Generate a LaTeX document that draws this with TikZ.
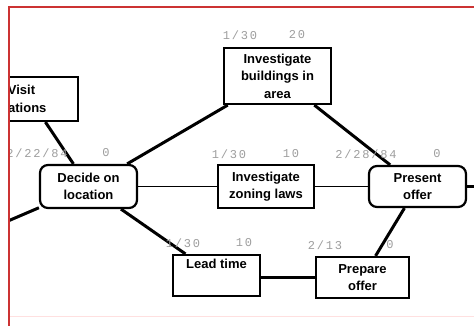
\documentclass[tikz,border=0pt]{standalone}
\usepackage{fontspec}
\setmainfont{Liberation Sans}
\newfontfamily\lblfont[LetterSpace=15]{Liberation Mono}
\begin{document}
\begin{tikzpicture}[x=1pt,y=-1pt,
  box/.style={draw, line width=2.2pt, inner sep=0pt, align=center,
    font=\bfseries\fontsize{13}{17.5}\selectfont},
  rbox/.style={box, rounded corners=8pt},
  boxtext/.style={inner sep=0pt, align=center, font=\bfseries\fontsize{13}{17.5}\selectfont},
  heavy/.style={line width=3pt},
  medium/.style={line width=2.2pt},
  light/.style={line width=1.6pt},
  lbl/.style={text=black!38, inner sep=0pt, font=\lblfont\fontsize{12}{12}\selectfont},
  frame/.style={draw=red!75!black!80, line width=2pt}]
\useasboundingbox (0,0) rectangle (474,326);
\fill[white] (0,0) rectangle (474,326);
\begin{scope}
\clip (10,8) rectangle (474,326);
% nodes
\node[box, minimum width=96pt, minimum height=44pt] (visit) at (30,99) {};
\node[boxtext] (visittext) at (21.5,99) {Visit\\stations};
\node[rbox, minimum width=97pt, minimum height=43pt] (decide) at (88.5,186.5) {Decide on\\location};
\node[box, minimum width=107pt, minimum height=56pt] (build) at (277.5,76) {Investigate\\buildings in\\area};
\node[box, minimum width=96pt, minimum height=43pt] (zoning) at (266,186.5) {Investigate\\zoning laws};
\node[rbox, minimum width=97pt, minimum height=41pt] (present) at (417.5,186.5) {Present\\offer};
\node[box, minimum width=87pt, minimum height=41pt] (lead) at (216.5,275.5) {Lead time\\\strut};
\node[box, minimum width=93pt, minimum height=41pt] (prepare) at (362.5,277.5) {Prepare\\offer};
\coordinate (outl) at (-20,233);
\coordinate (outr) at (500,186.5);
% connectors
\draw[heavy] (visit) -- (decide);
\draw[heavy] (decide) -- (build);
\draw[light] (decide) -- (zoning);
\draw[heavy] (decide) -- (lead);
\draw[heavy] (decide) -- (outl);
\draw[light] (zoning) -- (present);
\draw[heavy] (build) -- (present);
\draw[medium] (lead.east |- prepare.west) -- (prepare.west);
\draw[heavy] (prepare) -- (present);
\draw[medium] (present) -- (outr);
% labels
\node[lbl] (l1) at (37,153) {2/22/84};
\node[lbl] (l2) at (106,153) {0};
\node[lbl] (l3) at (240,35) {1/30};
\node[lbl] (l4) at (297,35) {20};
\node[lbl] (l5) at (229,154) {1/30};
\node[lbl] (l6) at (291,154) {10};
\node[lbl] (l7) at (366,154) {2/28/84};
\node[lbl] (l8) at (437,154) {0};
\node[lbl] (l9) at (183,243) {1/30};
\node[lbl] (l10) at (244,243) {10};
\node[lbl] (l11) at (325,245) {2/13};
\node[lbl] (l12) at (390,245) {0};
\end{scope}
% frame
\draw[frame] (9,326) -- (9,7) -- (474,7);
\draw[red!12, line width=1pt] (10,316) -- (474,316);
\end{tikzpicture}
\end{document}
